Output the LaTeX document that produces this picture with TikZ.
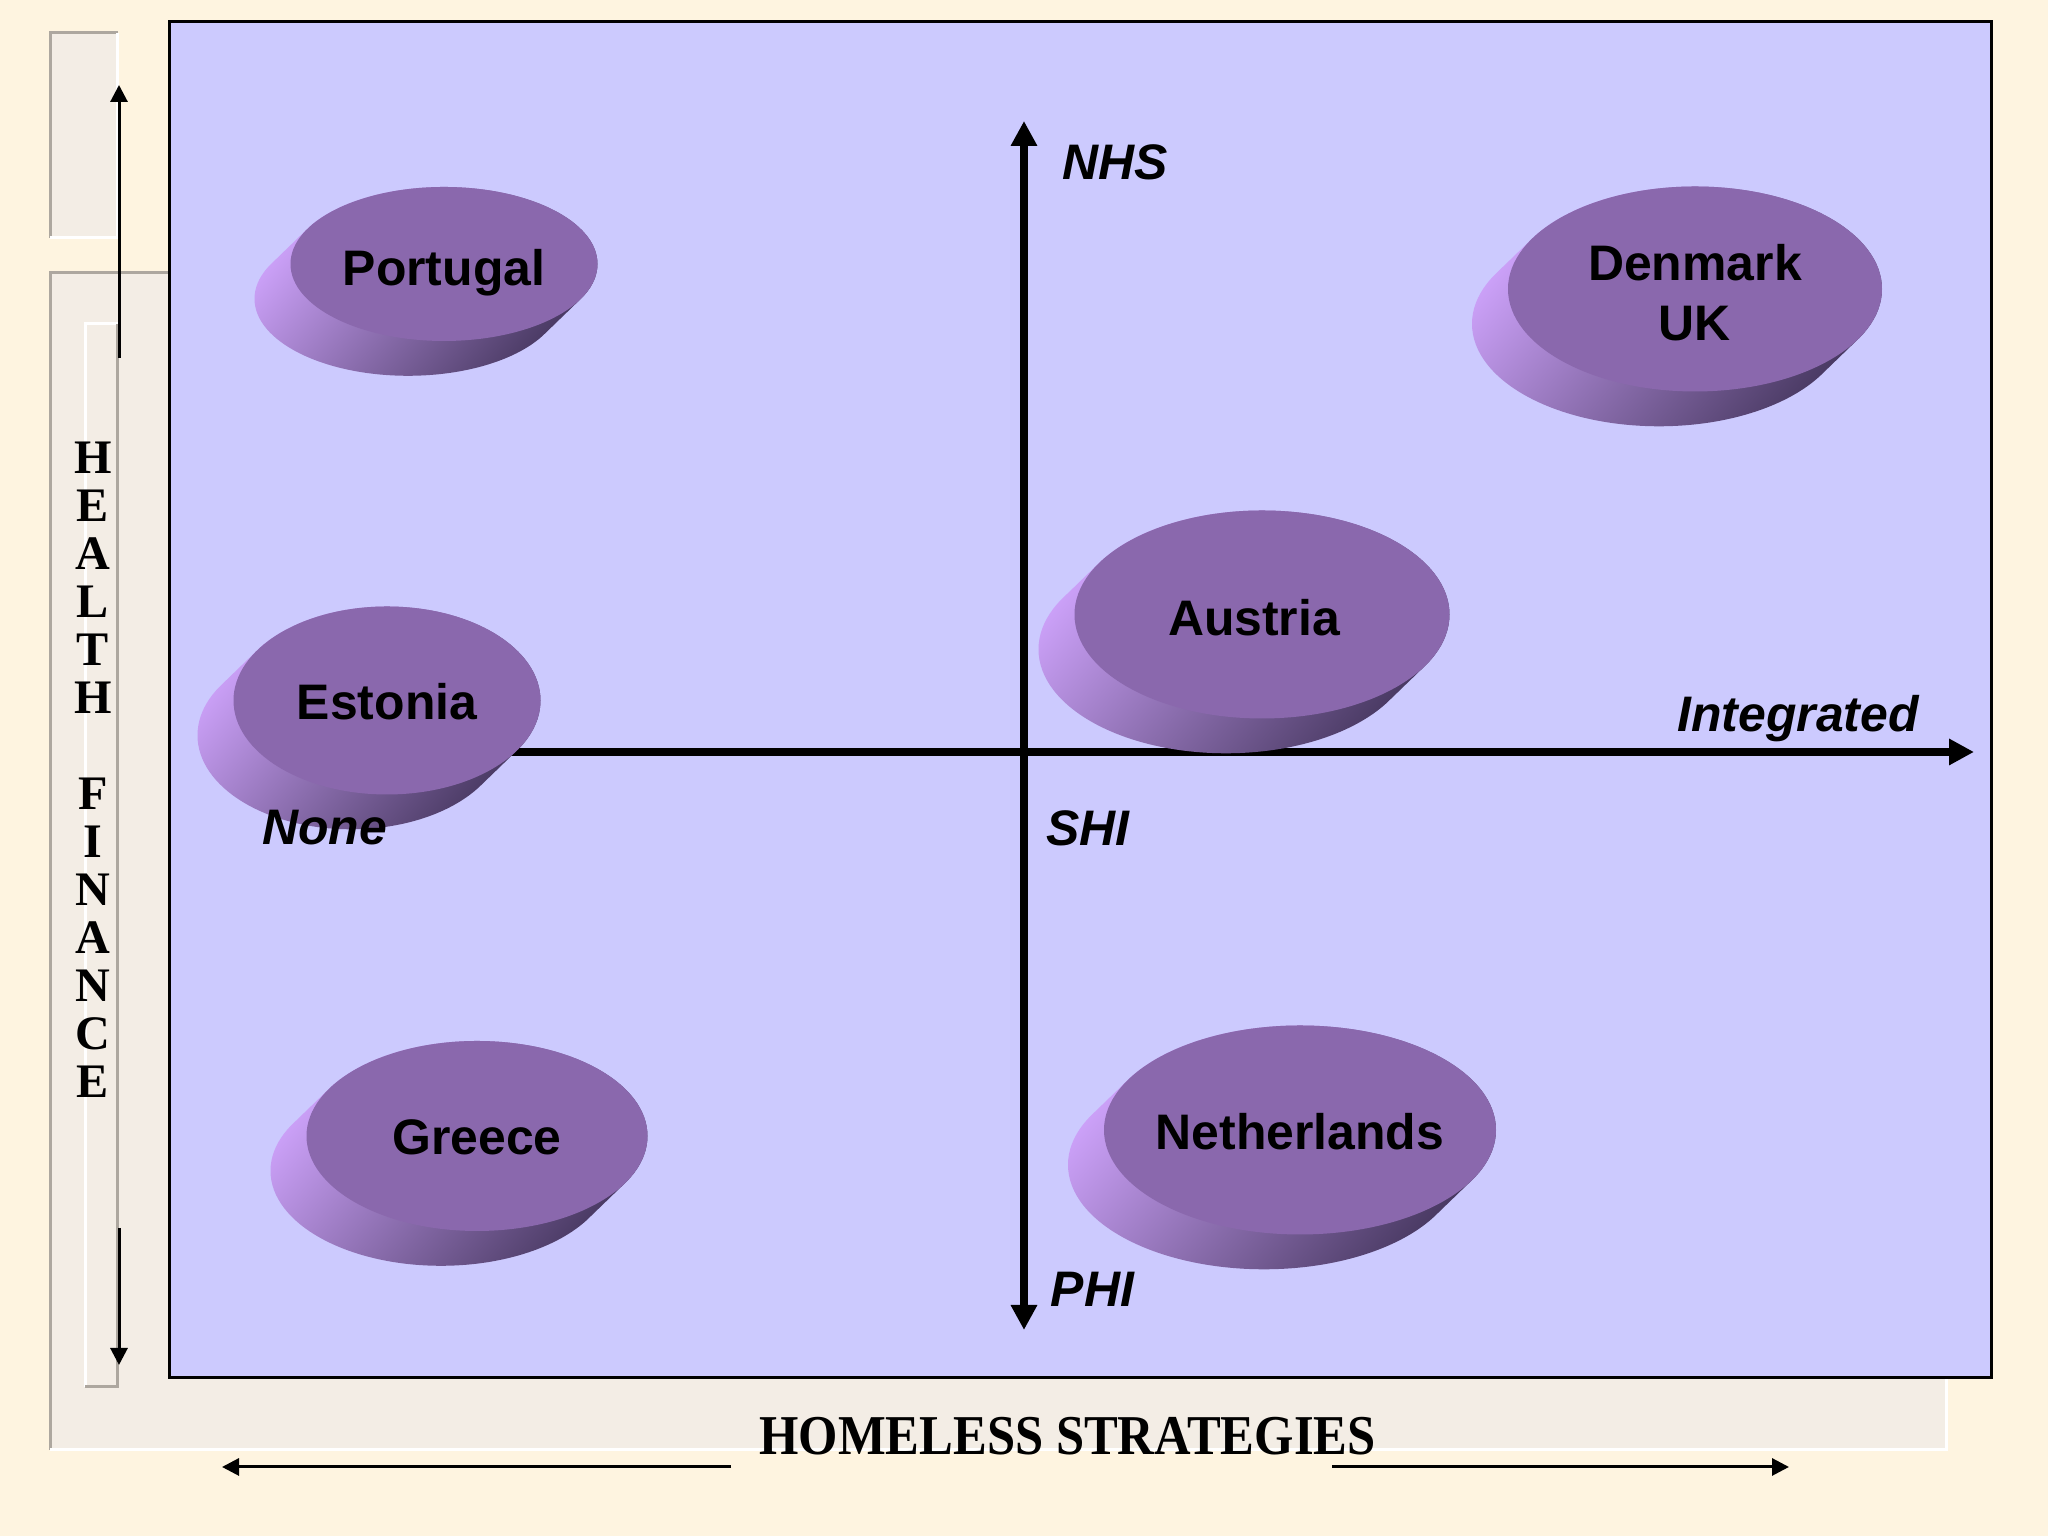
\documentclass[tikz,border=0pt]{standalone}
\usepackage{fontspec}
\setmainfont{Liberation Serif}
\setsansfont{Liberation Sans}
\usetikzlibrary{arrows.meta}
\definecolor{cream}{HTML}{FEF4E0}
\definecolor{panelcol}{HTML}{F3EDE5}
\definecolor{edgegray}{HTML}{ADA79F}
\definecolor{plotblue}{HTML}{CCCAFE}
\definecolor{facecol}{HTML}{8A68AD}
\definecolor{sidelight}{HTML}{CDA2FA}
\definecolor{sidedark}{HTML}{46375F}

\begin{document}
\begin{tikzpicture}[
	dark edge/.style = {draw=edgegray, line width=0.03cm},
	light edge/.style = {draw=white, line width=0.03cm},
	axis line/.style = {line width=0.08cm, -{Triangle[length=0.25cm,width=0.25cm]}},
	thin arrow/.style = {line width=0.03cm, -{Triangle[length=0.17cm,width=0.17cm]}},
	disc side/.style = {left color=sidelight, right color=sidedark, shading angle=50},
	disc text/.style = {font=\sffamily\bfseries\fontsize{14.2}{17}\selectfont, align=center, inner sep=0pt},
	axis label/.style = {font=\sffamily\bfseries\itshape\fontsize{14.2}{17}\selectfont, anchor=base, inner sep=0pt}]

\fill[cream] (0,0) rectangle (20.48,15.36);
\useasboundingbox (0,0) rectangle (20.48,15.36);

% frames round the plot
\fill[panelcol] (0.50,12.98) rectangle (1.18,15.03);
\draw[dark edge] (0.50,12.98) |- (1.18,15.03);
\draw[light edge] (1.18,15.03) |- (0.50,12.98);
\fill[panelcol] (0.50,0.86) rectangle (19.46,12.63);
\draw[dark edge] (0.50,0.86) |- (19.46,12.63);
\draw[light edge] (19.46,12.63) |- (0.50,0.86);
\draw[light edge] (0.85,1.49) |- (1.18,12.12);
\draw[dark edge] (1.18,12.12) |- (0.85,1.49);

\draw[fill=plotblue, line width=0.03cm] (1.69,1.58) rectangle (19.91,15.14);

% outer labels
\node[font=\bfseries\fontsize{13.7}{13.66}\selectfont, align=center, inner sep=0pt] (health) at (0.93,7.66)
	{H\\E\\A\\L\\T\\H\\~\\F\\I\\N\\A\\N\\C\\E};
\node[font=\bfseries\fontsize{16}{19}\selectfont, anchor=base, inner sep=0pt] (homeless) at (10.675,0.81)
	{\scalebox{0.9}[1]{HOMELESS STRATEGIES}};

\coordinate (hf top) at (1.19,11.78);
\coordinate (hf up) at (1.19,14.51);
\coordinate (hf bottom) at (1.19,3.08);
\coordinate (hf down) at (1.19,1.71);
\coordinate (hs left) at (7.31,0.69);
\coordinate (hs west) at (2.22,0.69);
\coordinate (hs right) at (13.32,0.69);
\coordinate (hs east) at (17.89,0.69);
\draw[thin arrow] (hf top) -- (hf up);
\draw[thin arrow] (hf bottom) -- (hf down);
\draw[thin arrow] (hs left) -- (hs west);
\draw[thin arrow] (hs right) -- (hs east);

% axes
\coordinate (o) at (10.24,7.84);
\coordinate (nhs end) at (10.24,14.15);
\coordinate (phi end) at (10.24,2.06);
\coordinate (none end) at (3.9,7.84);
\coordinate (int end) at (19.74,7.84);
\draw[axis line] (o) -- (nhs end);
\draw[axis line] (o) -- (phi end);
\draw[axis line] (none end) -- (int end);

% discs: centre, radii, name, text, text offset
\foreach \x/\y/\a/\b/\n/\t/\u/\v in {4.44/12.72/1.535/0.77/por/Portugal/0/-0.09,
	16.95/12.47/1.87/1.025/dnk/{Denmark\\UK}/0/-0.04,
	12.62/9.215/1.875/1.04/aut/Austria/-0.08/-0.03,
	3.87/8.355/1.535/0.94/est/Estonia/0/-0.015,
	4.77/4.00/1.705/0.95/grc/Greece/0/-0.015,
	13.00/4.06/1.96/1.045/nld/Netherlands/0/-0.015}
{
	\shade[disc side] \foreach \k in {0,...,12} {({\x-0.03*\k},{\y-0.029*\k}) ellipse ({\a} and {\b})};
	\fill[facecol] (\x,\y) ellipse ({\a} and {\b});
	\node[disc text] (\n) at ({\x+\u},{\y+\v}) {\t};
}

\node[axis label] (nhs) at (11.155,13.56) {NHS};
\node[axis label] (shi) at (10.88,6.90) {SHI};
\node[axis label] (phi) at (10.925,2.29) {PHI};
\node[axis label] (none) at (3.245,6.91) {None};
\node[axis label] (int) at (17.98,8.04) {Integrated};
\end{tikzpicture}
\end{document}
